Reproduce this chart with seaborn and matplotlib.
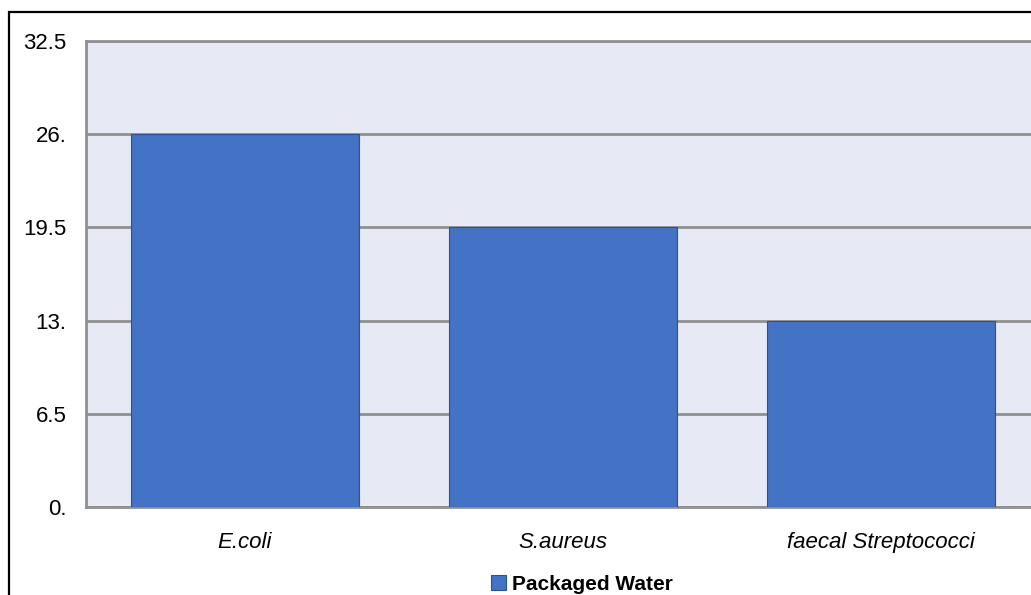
import matplotlib.pyplot as plt
import matplotlib.patches as mpatches
import pandas as pd
import seaborn as sns

# данные
organisms = ["E.coli", "S.aureus", "faecal Streptococci"]
counts = [26.0, 19.5, 13.0]
y_ticks = [0, 6.5, 13, 19.5, 26, 32.5]
y_tick_labels = ["0.", "6.5", "13.", "19.5", "26.", "32.5"]
series_name = "Packaged Water"

df = pd.DataFrame({"organism": organisms, "count": counts})

sns.set_style("white")
plt.rcParams['font.family'] = ['Liberation Sans', 'DejaVu Sans']
plt.rcParams['text.color'] = 'black'
plt.rcParams['xtick.color'] = 'black'
plt.rcParams['ytick.color'] = 'black'

W, H = 1031, 595
fig = plt.figure(figsize=(W / 100, H / 100), dpi=100)

# область построения (правый край уходит за пределы рисунка, как на оригинале)
left, right, top, bottom = 86, 1040, 41, 507
ax = fig.add_axes([left / W, 1 - bottom / H, (right - left) / W, (bottom - top) / H])
ax.set_facecolor("#E7E9F5")

sns.barplot(data=df, x="organism", y="count", ax=ax, color="#4472C4",
            width=0.716, saturation=1, edgecolor="#2F528F", linewidth=0.8,
            zorder=3)

ax.set_xlim(-0.5, 2.5)
ax.set_ylim(0, 32.5)
ax.set_yticks(y_ticks)
ax.set_yticklabels(y_tick_labels, fontsize=16)
ax.yaxis.grid(True, color="#909090", linewidth=2, zorder=1)
ax.set_axisbelow(True)
ax.tick_params(axis="y", length=0, pad=14, labelcolor="black")
ax.tick_params(axis="x", length=0, pad=18, labelcolor="black")
for lbl in ax.get_xticklabels():
    lbl.set_fontsize(16)
    lbl.set_fontstyle("italic")
ax.set_xlabel("")
ax.set_ylabel("")

for side in ["left", "bottom", "top"]:
    ax.spines[side].set_color("#909090")
    ax.spines[side].set_linewidth(2)
ax.spines["right"].set_visible(False)

# легенда
handle = mpatches.Patch(facecolor="#4472C4", edgecolor="#2F528F", linewidth=0.8)
leg = fig.legend([handle], [series_name], loc="center", bbox_to_anchor=(582 / W, 1 - 584 / H),
                 frameon=False, prop={"weight": "bold", "size": 15},
                 handlelength=0.7, handleheight=0.7, handletextpad=0.3)
for t in leg.get_texts():
    t.set_color("black")

# рамка рисунка
fig.patches.append(mpatches.Rectangle((9 / W, -1), 2, 1 + (1 - 12 / H),
                                      transform=fig.transFigure, fill=False,
                                      edgecolor="black", linewidth=1.6))

plt.savefig("out.png", dpi=100, facecolor="white")
plt.close()
